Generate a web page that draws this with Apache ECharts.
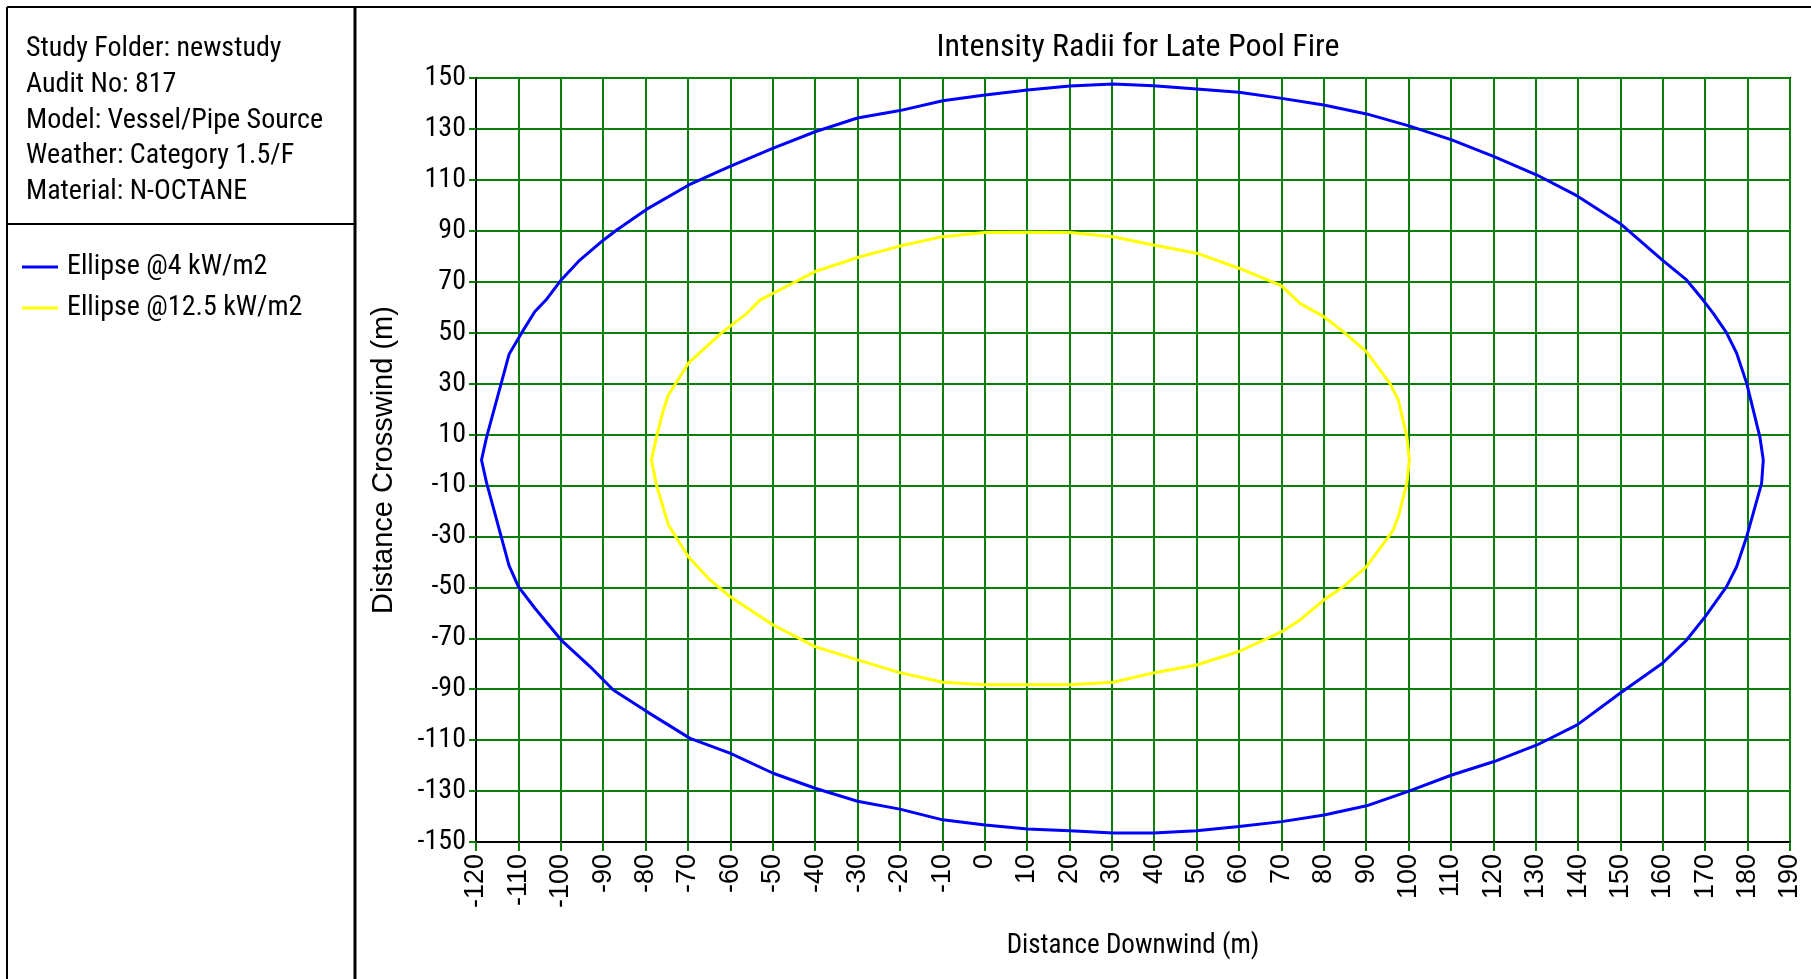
<!DOCTYPE html>
<html><head><meta charset="utf-8">
<script src="https://cdn.jsdelivr.net/npm/echarts@6/dist/echarts.min.js"></script>
<style>html,body{margin:0;padding:0;background:#fff}#c{width:1811px;height:979px}</style>
</head><body><div id="c"></div>
<script>
const chartTitle = 'Intensity Radii for Late Pool Fire';
const xAxisName = 'Distance Downwind (m)';
const yAxisName = 'Distance Crosswind (m)';
const infoLines = ['Study Folder: newstudy', 'Audit No: 817', 'Model: Vessel/Pipe Source', 'Weather: Category 1.5/F', 'Material: N-OCTANE'];
const seriesNames = ['Ellipse @4 kW/m2', 'Ellipse @12.5 kW/m2'];
const yTicks = [-150, -130, -110, -90, -70, -50, -30, -10, 10, 30, 50, 70, 90, 110, 130, 150];

// Ellipse @4 kW/m2 : [downwind, crosswind]
const ellipse4 = [
  [183.7,0],[182.9,9],[179.8,30],[177.4,42],[175,50],[171.9,57.6],[169.5,62.8],[165.6,70.7],[159.9,78.5],
  [149.9,92.9],[139.8,103.7],[130.3,111.9],[120.2,119.1],[110.2,125.7],[100.1,131.2],[90.1,135.9],[80,139.4],
  [70.1,142],[60,144.4],[50,145.7],[39.8,147],[30.3,147.6],[20.1,146.9],[10.1,145.3],[0.1,143.3],[-9.9,141.1],
  [-20,137.2],[-30,134.3],[-40,128.9],[-50,122.4],[-60.2,115.2],[-69.8,108],[-79.8,98.4],[-86.8,90.3],[-89.9,86.4],
  [-95.5,78.5],[-99.9,70.7],[-103.5,62.8],[-106.1,58.3],[-109.2,50],[-112.2,41.5],[-117.5,9],[-118.7,0],
  [-117.5,-9],[-112.2,-41.5],[-110,-49.7],[-106.1,-58.2],[-99.9,-70.7],[-93.1,-81.1],[-87.6,-90.3],[-79.7,-98.8],
  [-69.5,-109.3],[-60.1,-115.1],[-49.9,-123],[-40,-128.9],[-30,-134],[-20,-137.1],[-9.9,-141.3],[0.1,-143.3],
  [10.1,-144.9],[20.1,-145.6],[30.3,-146.5],[39.8,-146.5],[50,-145.6],[60,-143.9],[70.1,-142],[80.1,-139.4],
  [90.1,-135.8],[100.1,-130],[110.2,-123.7],[120.2,-118.4],[130.3,-111.9],[139.8,-104],[149.9,-91.6],[159.9,-79.8],
  [165.6,-70.7],[170,-61.5],[175,-49.8],[177.4,-41.9],[179.8,-30],[183.3,-9.2],[183.7,0]
];

// Ellipse @12.5 kW/m2 : [downwind, crosswind]
const ellipse12 = [
  [100.2,0],[99.6,9.2],[97.6,23.6],[95.6,30.1],[90.1,42.5],[84.6,50.4],[80,56.3],[74.4,61.5],[70,68.5],[60,75.3],
  [50,81.2],[39.8,84.4],[30.3,87.7],[20.1,89.3],[10.1,89.4],[0.1,89.3],[-9.9,87.7],[-20,84],[-29.4,79.8],[-40,74],
  [-46,68.8],[-53,62.8],[-56.1,57.6],[-62,50],[-69.9,38],[-74.6,25.5],[-75.8,19.6],[-77.4,9.2],[-78.6,0],
  [-77.4,-10],[-74.6,-25.5],[-69.9,-38],[-64.8,-47.1],[-60.1,-53.6],[-49.9,-64.8],[-40,-73.3],[-30,-78.5],[-20,-83.5],
  [-9.9,-87.3],[0.1,-88.3],[10.1,-88.3],[20.1,-88.3],[30.3,-87.3],[39.8,-83.6],[50,-80.5],[60,-75.2],[70,-67.5],
  [74.4,-62.8],[80,-55],[84.6,-49.8],[90.1,-41.9],[96.4,-27.5],[97.6,-22.2],[99.6,-9.2],[100.2,0]
];

const NARROW = "'Roboto Condensed', 'Liberation Sans Narrow', 'Liberation Sans', Arial, sans-serif";
const WIDE = "'Liberation Sans', Arial, sans-serif";
const GREEN = '#0a800a';

const graphics = [
  { type: 'line', shape: { x1: 7, y1: 7, x2: 1811, y2: 7 }, style: { stroke: '#000', lineWidth: 2 } },
  { type: 'line', shape: { x1: 7, y1: 7, x2: 7, y2: 979 }, style: { stroke: '#000', lineWidth: 2 } },
  { type: 'line', shape: { x1: 355, y1: 7, x2: 355, y2: 979 }, style: { stroke: '#000', lineWidth: 3 } },
  { type: 'line', shape: { x1: 7, y1: 224, x2: 355, y2: 224 }, style: { stroke: '#000', lineWidth: 2 } }
];
infoLines.forEach((t, i) => {
  graphics.push({ type: 'text', x: 26, y: 49 + i * 35.8,
    style: { text: t, fontSize: 28, fontFamily: NARROW, fill: '#000', verticalAlign: 'middle', align: 'left' } });
});

const chart = echarts.init(document.getElementById('c'), null, { renderer: 'canvas' });
chart.setOption({
  backgroundColor: '#fff',
  animation: false,
  title: {
    text: chartTitle, left: 1133, top: 27, textAlign: 'center',
    textStyle: { fontSize: 32, fontWeight: 'normal', fontFamily: NARROW, color: '#000' }
  },
  legend: {
    data: seriesNames, orient: 'vertical', left: 17, top: 247, icon: 'rect',
    itemWidth: 36, itemHeight: 3, itemGap: 11,
    textStyle: { fontSize: 28, fontFamily: NARROW, color: '#000', lineHeight: 30, padding: [0, 0, 0, 4] }
  },
  grid: { left: 476, top: 78, right: 21, bottom: 137, show: true, borderColor: '#000', borderWidth: 2, backgroundColor: '#fff' },
  xAxis: {
    type: 'value', min: -120, max: 190, interval: 10,
    name: xAxisName, nameLocation: 'middle', nameGap: 91,
    nameTextStyle: { fontSize: 27, fontFamily: NARROW, color: '#000' },
    axisLine: { onZero: false, lineStyle: { color: '#000', width: 2 } },
    axisTick: { length: 9, lineStyle: { color: GREEN, width: 2 } },
    axisLabel: { rotate: 90, margin: 12, fontSize: 27, fontFamily: WIDE, color: '#000' },
    splitLine: { show: true, lineStyle: { color: GREEN, width: 2 } }
  },
  yAxis: {
    type: 'value', min: -150, max: 150,
    name: yAxisName, nameLocation: 'middle', nameGap: 78,
    nameTextStyle: { fontSize: 29, fontFamily: WIDE, color: '#000' },
    axisLine: { onZero: false, lineStyle: { color: '#000', width: 2 } },
    axisTick: { length: 7, customValues: yTicks, lineStyle: { color: GREEN, width: 2 } },
    axisLabel: { customValues: yTicks, margin: 10, fontSize: 28, fontFamily: NARROW, color: '#000' },
    splitLine: { show: true, lineStyle: { color: GREEN, width: 2 } }
  },
  graphic: graphics,
  series: [
    { name: seriesNames[0], type: 'line', data: ellipse4, showSymbol: false, symbol: 'none', smooth: false,
      lineStyle: { color: '#0000ff', width: 3 }, itemStyle: { color: '#0000ff' } },
    { name: seriesNames[1], type: 'line', data: ellipse12, showSymbol: false, symbol: 'none', smooth: false,
      lineStyle: { color: '#ffff00', width: 3 }, itemStyle: { color: '#ffff00' } }
  ]
});
</script></body></html>
